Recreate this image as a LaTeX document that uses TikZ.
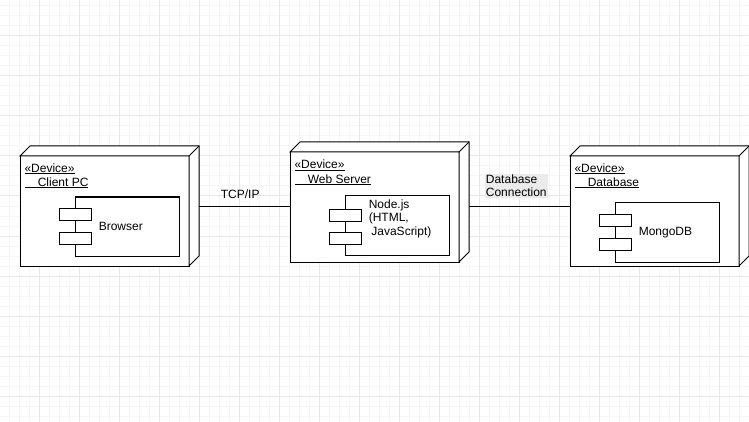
\documentclass[tikz,border=0pt]{standalone}
\usepackage{fontspec}
\setmainfont{Liberation Sans}
\newsavebox\devulbox
\newcommand\devul[1]{\sbox\devulbox{#1}\rlap{\rule[-1.7pt]{\wd\devulbox}{0.9pt}}\usebox\devulbox}
\newcommand\devdepth[1]{%
  \draw[fill=white] (#1.north west) -- ++(10,-10) -- ([shift={(10,-10)}]#1.north east)
    -- ([shift={(10,-10)}]#1.south east) -- (#1.south east) -- (#1.north east) -- cycle;
  \draw (#1.north east) -- ++(10,-10);}
\begin{document}
\begin{tikzpicture}[x=1pt,y=-1pt,
  font=\fontsize{12}{14}\selectfont,
  device/.style={draw, fill=white, line width=1pt, minimum width=169pt, minimum height=110pt,
    inner sep=0pt, outer sep=0pt, anchor=north west},
  comp/.style={draw, fill=white, line width=1pt, minimum width=104pt, minimum height=59pt,
    inner sep=0pt, outer sep=0pt, anchor=north west},
  port/.style={draw, fill=white, line width=1pt, minimum width=32pt, minimum height=12pt,
    inner sep=0pt, outer sep=0pt},
  txt/.style={inner sep=0pt, anchor=base west, align=left},
  minorg/.style={line width=1pt, draw={rgb,255:red,246;green,246;blue,246}},
  majorg/.style={line width=1pt, draw={rgb,255:red,231;green,231;blue,231}},
  conn/.style={line width=1pt}
]
\useasboundingbox (0,0) rectangle (749,422);
\fill[white] (0,0) rectangle (749,422);
% grid
\foreach \x in {9.5,19.5,...,749} \draw[minorg] (\x,0) -- (\x,422);
\foreach \y in {6,16,...,422} \draw[minorg] (0,\y) -- (749,\y);
\foreach \x in {39.5,79.5,...,749} \draw[majorg] (\x,0) -- (\x,422);
\foreach \y in {36,76,...,422} \draw[majorg] (0,\y) -- (749,\y);

\begin{scope}[line width=1pt]
% Client PC
\node[device] (client) at (20,156) {};
\devdepth{client}
\node[comp] (browser) at (75,197) {};
\node[port] (bp1) at ([shift={(0,17.5)}]browser.north west) {};
\node[port] (bp2) at ([shift={(0,41.5)}]browser.north west) {};
\node[txt] (clientlbl) at (24,186.5) {\devul{«Device»}\\\devul{\hspace*{13.3pt}Client PC}};
\node[txt] (browsertxt) at (98.3,230.5) {Browser};

% Web Server
\node[device] (web) at (290,152) {};
\devdepth{web}
\node[comp] (nodejs) at (345,196) {};
\node[port] (np1) at ([shift={(0,19)}]nodejs.north west) {};
\node[port] (np2) at ([shift={(0,42.5)}]nodejs.north west) {};
\node[txt] (weblbl) at (294,183) {\devul{«Device»}\\\devul{\hspace*{13.3pt}Web Server}};
\node[txt, font=\fontsize{12}{13.5}\selectfont] (nodejstxt) at (368.3,235.3) {Node.js\\(HTML,\\\hspace*{2.6pt}JavaScript)};

% Database
\node[device] (db) at (570,156) {};
\devdepth{db}
\node[comp, minimum height=60pt] (mongo) at (615,202) {};
\node[port] (mp1) at ([shift={(0,18.5)}]mongo.north west) {};
\node[port] (mp2) at ([shift={(0,42)}]mongo.north west) {};
\node[txt] (dblbl) at (574,186.5) {\devul{«Device»}\\\devul{\hspace*{13.3pt}Database}};
\node[txt] (mongotxt) at (638.3,235.5) {MongoDB};
\end{scope}

% connectors
\coordinate (tcpA) at ([shift={(10,-5)}]client.east);
\coordinate (wsR) at ([xshift=10pt]web.east);
\draw[conn] (tcpA) -- (tcpA -| web.west);
\draw[conn] (wsR |- tcpA) -- (tcpA -| db.west);
\node[txt] (tcplbl) at (220.7,198) {TCP/IP};
\node[fill=black!8, inner sep=1pt, anchor=north west, align=left,
  font=\fontsize{12}{12.6}\selectfont] (dbconn) at (484.7,174) {Database\\Connection};
\end{tikzpicture}
\end{document}
